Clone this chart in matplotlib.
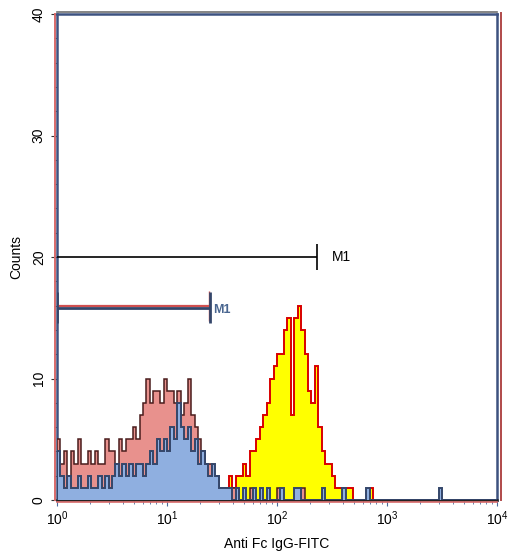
import numpy as np
import matplotlib.pyplot as plt
from matplotlib.lines import Line2D
from matplotlib.transforms import offset_copy
from matplotlib.ticker import FixedLocator, LogLocator

plt.rcParams['font.family'] = ['Liberation Sans', 'DejaVu Sans']

# 128 log channels spanning 10^0 .. 10^4
n_bins = 128
edges = np.logspace(0, 4, n_bins + 1)

# isotype / negative control (pink), channels 0..52
pink_counts = [5, 3, 4, 2, 4, 3, 5, 3, 3, 4, 3, 4, 3, 3, 5, 4, 4, 3, 5, 4,
               5, 5, 6, 5, 7, 8, 10, 8, 9, 9, 8, 10, 9, 9, 8, 9, 7, 8, 10, 7,
               6, 5, 4, 3, 3, 2, 2, 1, 1, 1, 1, 1, 1]
pink_single = [56, 64, 71]

# second control (blue), channels 0..53
blue_counts = [4, 2, 1, 2, 1, 1, 2, 1, 1, 2, 1, 1, 2, 1, 2, 1, 2, 3, 2, 3,
               2, 3, 2, 3, 3, 2, 3, 4, 3, 5, 4, 5, 4, 6, 5, 8, 6, 5, 6, 4,
               5, 3, 4, 3, 2, 3, 2, 1, 1, 1, 1, 0, 1, 0]
blue_single = [54, 57, 59, 61, 65, 69, 70, 77, 83, 90, 111]

# stained sample (yellow), channels 49..91
yellow_start = 49
yellow_counts = [1, 2, 1, 2, 2, 3, 2, 4, 4, 5, 6, 7, 8, 10, 11, 12, 12, 14, 15, 7,
                 15, 16, 14, 12, 9, 8, 11, 6, 4, 3, 3, 2, 1, 1, 1, 1, 1, 0, 0, 0,
                 0, 0, 1]

# marker gates: (start, end, level)
m1_sample = (1, 232, 20)
m1_control = (1, 24.6, 15.8)


def to_channels(counts, start=0, singles=()):
    arr = np.zeros(n_bins)
    arr[start:start + len(counts)] = counts
    for s in singles:
        arr[s] = 1
    return arr


yellow = to_channels(yellow_counts, yellow_start)
pink = to_channels(pink_counts, 0, pink_single)
blue = to_channels(blue_counts, 0, blue_single)

fig = plt.figure(figsize=(5.11, 5.52), dpi=100)
ax = fig.add_axes([57 / 511, 52 / 552, 440 / 511, 486 / 552])
ax.set_xscale('log')
ax.set_xlim(1, 1e4)
ax.set_ylim(0, 40)

ax.stairs(yellow, edges, fill=True, color='#ffff00', zorder=1)
ax.stairs(yellow, edges, color='#d80000', lw=1.4, zorder=2)
ax.stairs(pink, edges, fill=True, color='#e8918d', zorder=3)
ax.stairs(pink, edges, color='#4a1c1c', lw=1.1, zorder=4)
ax.stairs(blue, edges, fill=True, color='#8fafe0', zorder=5)
ax.stairs(blue, edges, color='#34466a', lw=1.4, zorder=6)

# markers
x0, x1, lvl = m1_sample
ax.hlines(lvl, x0, x1, color='black', lw=1.2, zorder=7)
ax.vlines(x1, lvl - 1.1, lvl + 1.1, color='black', lw=1.2, zorder=7)
ax.text(x1 * 1.35, lvl, 'M1', fontsize=10, va='center', ha='left')

x0, x1, lvl = m1_control
ax.hlines(lvl + 0.15, x0, x1, color='#d05050', lw=1.6, zorder=7)
ax.hlines(lvl, x0, x1, color='#34466a', lw=2.0, zorder=8)
ax.vlines([x0 * 1.01, x1], lvl - 1.2, lvl + 1.3, color='#34466a', lw=2.0, zorder=8)
ax.vlines(x1 * 0.985, lvl - 1.1, lvl + 1.4, color='#d05050', lw=1.0, zorder=7)
ax.text(x1 * 1.06, lvl - 0.15, 'M1', fontsize=9, va='center', ha='left',
        color='#4a6690', fontweight='bold')

# frame: overlaid plots give doubled coloured borders
for side in ax.spines.values():
    side.set_color('#3d5280')
    side.set_linewidth(1.8)
ax.spines['bottom'].set_color('#222222')


def frame_line(xs, ys, color, dx=0, dy=0, lw=1.4):
    tr = offset_copy(ax.transAxes, fig=fig, x=dx, y=dy, units='dots')
    ax.add_line(Line2D(xs, ys, transform=tr, color=color, lw=lw,
                       clip_on=False, zorder=9))


frame_line([0, 0], [0, 1], '#d86a6a', dx=-2)
frame_line([1, 1], [0, 1.003], '#b04a4a', dx=4)
frame_line([0, 1], [1, 1], '#707070', dy=2, lw=1.2)
frame_line([0, 1], [0, 0], '#d86a6a', dy=-2, lw=1.2)

ax.xaxis.set_major_locator(LogLocator(base=10, numticks=10))
ax.xaxis.set_minor_locator(LogLocator(base=10, subs=np.arange(2, 10), numticks=10))
ax.yaxis.set_major_locator(FixedLocator([0, 10, 20, 30, 40]))
ax.yaxis.set_minor_locator(FixedLocator(np.arange(0, 41, 2)))

ax.tick_params(axis='x', which='major', length=4, color='#4a6a9a', labelsize=10, pad=3)
ax.tick_params(axis='x', which='minor', length=3, color='#4a6a9a')
ax.tick_params(axis='y', which='major', length=4, color='#333333', labelsize=10,
               labelrotation=90, pad=4)
ax.tick_params(axis='y', which='minor', length=2, color='#333333')
for lab in ax.get_yticklabels():
    lab.set_va('center')

ax.set_xlabel('Anti Fc IgG-FITC', fontsize=10, labelpad=6)
ax.set_ylabel('Counts', fontsize=10, labelpad=6)

fig.savefig('out.png', dpi=100)
